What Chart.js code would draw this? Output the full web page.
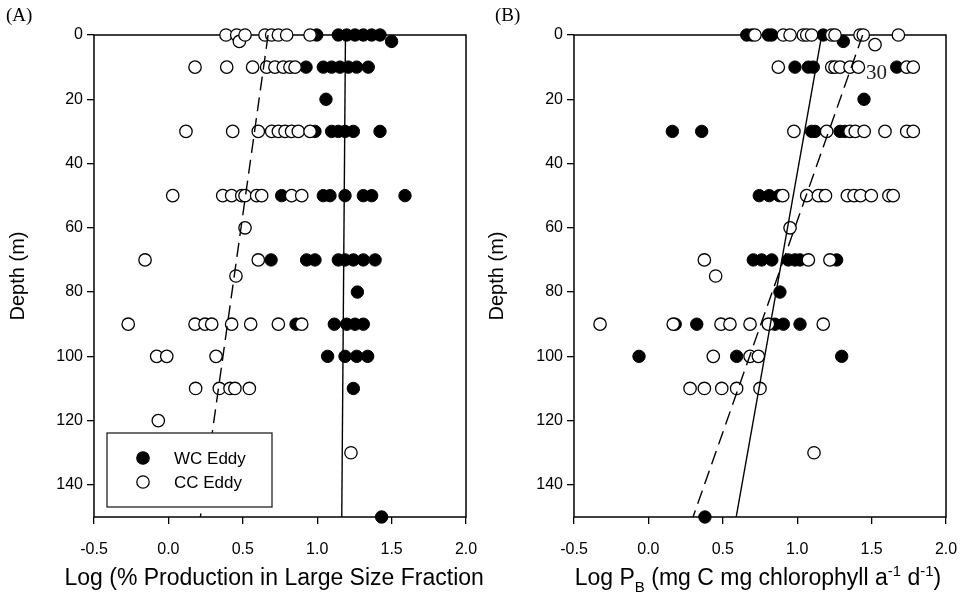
<!DOCTYPE html>
<html>
<head>
<meta charset="utf-8">
<script src="https://cdn.jsdelivr.net/npm/chart.js@4.4.0/dist/chart.umd.min.js"></script>
<style>
body{margin:0;background:#fff;}
#wrap{position:relative;width:968px;height:602px;overflow:hidden;}
canvas{position:absolute;top:0;}
#chartA{left:0;}
#chartB{left:484px;}
</style>
</head>
<body>
<div id="wrap">
<canvas id="chartA" width="484" height="602"></canvas>
<canvas id="chartB" width="484" height="602"></canvas>
</div>
<script>
const xTicks=[-0.5,0,0.5,1,1.5,2];
const depthTicks=[0,20,40,60,80,100,120,140];

// [log value, depth m]
const wcEddyA=[
 [0.997,0],[1.142,0],[1.198,0],[1.254,0],[1.310,0],[1.366,0],[1.422,0],[1.50,2],
 [0.925,10],[1.041,10],[1.097,10],[1.153,10],[1.209,10],[1.265,10],[1.343,10],
 [1.059,20],
 [0.985,30],[1.097,30],[1.142,30],[1.187,30],[1.243,30],[1.422,30],
 [0.761,50],[1.041,50],[1.086,50],[1.187,50],[1.310,50],[1.366,50],[1.590,50],
 [0.690,70],[0.929,70],[0.985,70],[1.142,70],[1.187,70],[1.243,70],[1.310,70],[1.389,70],
 [1.270,80],
 [0.858,90],[1.115,90],[1.198,90],[1.254,90],[1.310,90],
 [1.070,100],[1.187,100],[1.265,100],[1.339,100],
 [1.243,110],
 [1.433,150]
];
const ccEddyA=[
 [0.387,0],[0.459,0],[0.477,2],[0.515,0],[0.649,0],[0.694,0],[0.739,0],[0.795,0],[0.952,0],
 [0.179,10],[0.392,10],[0.566,10],[0.660,10],[0.716,10],[0.772,10],[0.817,10],[0.851,10],
 [0.118,30],[0.432,30],[0.604,30],[0.694,30],[0.739,30],[0.784,30],[0.828,30],[0.873,30],[0.952,30],
 [0.029,50],[0.365,50],[0.425,50],[0.493,50],[0.515,50],[0.593,50],[0.627,50],[0.828,50],[0.896,50],
 [0.515,60],
 [-0.157,70],[0.604,70],
 [0.454,75],
 [-0.270,90],[0.179,90],[0.246,90],[0.291,90],[0.425,90],[0.553,90],[0.739,90],[0.896,90],
 [-0.079,100],[-0.011,100],[0.320,100],
 [0.183,110],[0.342,110],[0.414,110],[0.447,110],[0.544,110],
 [-0.068,120],
 [1.227,130]
];
const wcEddyB=[
 [0.661,0],[0.694,0],[0.806,0],[0.829,0],[1.175,0],[1.31,2],
 [0.985,10],[1.075,10],[1.108,10],[1.669,10],
 [1.449,20],
 [0.161,30],[0.358,30],[1.097,30],[1.12,30],[1.288,30],[1.32,30],
 [0.745,50],[0.812,50],[0.88,50],[1.164,50],
 [0.705,70],[0.761,70],[0.829,70],[0.940,70],[0.985,70],[1.019,70],[1.265,70],
 [0.884,80],
 [0.18,90],[0.325,90],[0.851,90],[0.907,90],[1.019,90],
 [-0.063,100],[0.593,100],[1.299,100],
 [0.380,150]
];
const ccEddyB=[
 [0.716,0],[0.907,0],[0.952,0],[1.041,0],[1.064,0],[1.097,0],[1.232,0],[1.254,0],[1.422,0],[1.444,0],[1.523,3],[1.680,0],
 [0.873,10],[1.232,10],[1.254,10],[1.288,10],[1.355,10],[1.411,10],[1.736,10],[1.780,10],
 [0.978,30],[1.198,30],[1.355,30],[1.39,30],[1.45,30],[1.59,30],[1.736,30],[1.78,30],
 [0.903,50],[1.064,50],[1.142,50],[1.19,50],[1.337,50],[1.382,50],[1.426,50],[1.498,50],[1.616,50],[1.645,50],
 [0.952,60],
 [0.376,70],[1.075,70],[1.220,70],
 [0.452,75],
 [-0.325,90],[0.167,90],[0.488,90],[0.548,90],[0.683,90],[0.806,90],[1.175,90],
 [0.436,100],[0.683,100],[0.739,100],
 [0.280,110],[0.376,110],[0.493,110],[0.593,110],[0.750,110],
 [1.113,130]
];
// regression lines
const fitWcA=[[1.19,0],[1.165,150]];
const fitCcA=[[0.67,0],[0.215,150]];
const fitWcB=[[1.165,0],[0.59,150]];
const fitCcB=[[1.44,0],[0.30,150]];

const SANS='"Liberation Sans", Arial, sans-serif';
const SERIF='"Liberation Serif", "Times New Roman", serif';
const toXY=arr=>arr.map(p=>({x:p[0],y:p[1]}));

const framePlugin={
  id:'frame',
  beforeDatasetsDraw(chart){
    const a=chart.chartArea, c=chart.ctx;
    c.save();
    c.strokeStyle='#000';c.lineWidth=1.5;
    c.strokeRect(a.left,a.top,a.right-a.left,a.bottom-a.top);
    c.restore();
  }
};

const notesPlugin={
  id:'notes',
  afterDraw(chart,args,opts){
    const c=chart.ctx;
    c.save();
    c.textBaseline='middle';
    (opts.items||[]).forEach(t=>{
      c.font=t.font;
      c.fillStyle=t.color||'#000';
      c.textAlign=t.align||'left';
      c.fillText(t.text,t.x,t.y);
    });
    c.restore();
  }
};

const boxLegendPlugin={
  id:'boxLegend',
  afterDraw(chart,args,opts){
    if(!opts.show) return;
    const a=chart.chartArea, c=chart.ctx;
    const x=a.left+13, y=a.bottom-84, w=165, h=74;
    c.save();
    c.fillStyle='#fff';c.fillRect(x,y,w,h);
    c.strokeStyle='#222';c.lineWidth=1.3;c.strokeRect(x,y,w,h);
    c.font='17px '+SANS;c.textBaseline='middle';c.textAlign='left';
    const rows=[chart.data.datasets[2],chart.data.datasets[1]];
    rows.forEach((ds,i)=>{
      const cy=y+25+i*24;
      c.beginPath();c.arc(x+36,cy,6.2,0,Math.PI*2);
      c.fillStyle=ds.backgroundColor;c.fill();
      c.lineWidth=1.3;c.strokeStyle='#000';c.stroke();
      c.fillStyle='#000';c.fillText(ds.label,x+67,cy+1);
    });
    c.restore();
  }
};

// x axis title, drawn in pieces so sub/superscripts work
const richTitlePlugin={
  id:'richTitle',
  afterDraw(chart,args,opts){
    if(!opts.parts) return;
    const c=chart.ctx, a=chart.chartArea;
    const base='23px '+SANS, small='15px '+SANS;
    c.save();
    c.textBaseline='alphabetic';c.textAlign='left';c.fillStyle='#000';
    let total=0;
    opts.parts.forEach(p=>{c.font=p.kind?small:base;total+=c.measureText(p.text).width;});
    let x=(a.left+a.right)/2-total/2+(opts.shift||0);
    const y=opts.y;
    opts.parts.forEach(p=>{
      c.font=p.kind?small:base;
      const dy=p.kind==='sub'?7:(p.kind==='sup'?-9:0);
      c.fillText(p.text,x,y+dy);
      x+=c.measureText(p.text).width;
    });
    c.restore();
  }
};

function makePanel(id,wc,cc,fitWc,fitCc,cfg){
  return new Chart(document.getElementById(id),{
    type:'scatter',
    data:{
      datasets:[
        {label:'fit',data:toXY(fitWc),showLine:true,pointRadius:0,borderColor:'#000',borderWidth:1.4,order:0},
        {label:'CC Eddy',data:toXY(cc),pointRadius:6.2,pointBackgroundColor:'#fff',backgroundColor:'#fff',borderColor:'#000',pointBorderWidth:1.3,order:1,clip:false},
        {label:'WC Eddy',data:toXY(wc),pointRadius:6.2,pointBackgroundColor:'#000',backgroundColor:'#000',borderColor:'#000',pointBorderWidth:1,order:2,clip:false},
        {label:'fit',data:toXY(fitCc),showLine:true,pointRadius:0,borderColor:'#000',borderWidth:1.4,borderDash:[14,7],order:0}
      ]
    },
    options:{
      responsive:false,animation:false,devicePixelRatio:1,
      layout:{padding:{left:0,right:cfg.padRight,top:35,bottom:0}},
      plugins:{
        legend:{display:false},tooltip:{enabled:false},
        notes:{items:cfg.notes},
        boxLegend:{show:cfg.legend},
        richTitle:{parts:cfg.xTitle,y:585,shift:cfg.titleShift}
      },
      scales:{
        x:{
          type:'linear',min:-0.5,max:2.0,
          afterBuildTicks:s=>{s.ticks=xTicks.map(v=>({value:v}));},
          afterFit:s=>{s.height=85;s.paddingLeft=0;s.paddingRight=0;},
          border:{display:false},
          grid:{drawOnChartArea:false,drawTicks:true,tickLength:7,color:'#000',lineWidth:1.3},
          ticks:{color:'#000',font:{family:SANS,size:16},padding:16,maxRotation:0,callback:v=>v.toFixed(1)}
        },
        y:{
          type:'linear',min:0,max:150,reverse:true,
          afterBuildTicks:s=>{s.ticks=depthTicks.map(v=>({value:v}));},
          afterFit:s=>{s.width=cfg.yWidth;s.paddingTop=0;s.paddingBottom=0;},
          border:{display:false},
          grid:{drawOnChartArea:false,drawTicks:true,tickLength:7,color:'#000',lineWidth:1.3},
          ticks:{color:'#000',font:{family:SANS,size:16},padding:4},
          title:{display:true,text:'Depth (m)',color:'#000',font:{family:SANS,size:20},padding:{top:cfg.yTitlePad,bottom:0}}
        }
      }
    },
    plugins:[framePlugin,notesPlugin,boxLegendPlugin,richTitlePlugin]
  });
}

makePanel('chartA',wcEddyA,ccEddyA,fitWcA,fitCcA,{
  padRight:18,yWidth:94,yTitlePad:6,legend:true,titleShift:-2,
  xTitle:[{text:'Log (% Production in Large Size Fraction)'}],
  notes:[{text:'(A)',x:6,y:16,font:'19px '+SERIF}]
});

makePanel('chartB',wcEddyB,ccEddyB,fitWcB,fitCcB,{
  padRight:22,yWidth:90,yTitlePad:1,legend:false,titleShift:-2,
  xTitle:[
    {text:'Log P'},{text:'B',kind:'sub'},{text:' (mg C mg chlorophyll a'},
    {text:'-1',kind:'sup'},{text:' d'},{text:'-1',kind:'sup'},{text:')'}
  ],
  notes:[{text:'(B)',x:11,y:16,font:'19px '+SERIF},
         {text:'30',x:382,y:73,font:'21px '+SERIF,color:'#222'}]
});
</script>
</body>
</html>
